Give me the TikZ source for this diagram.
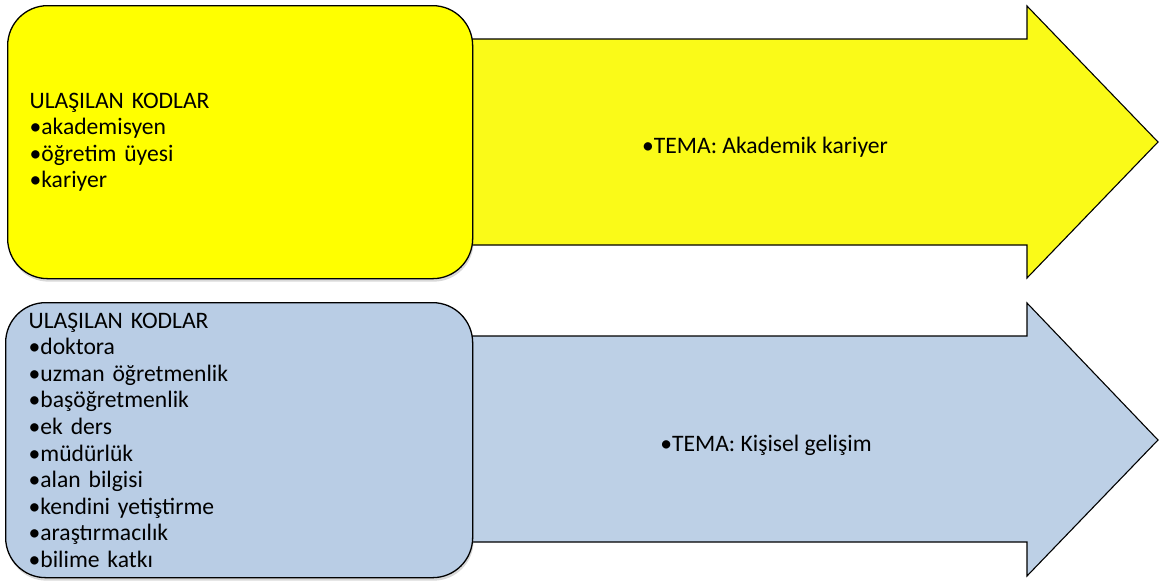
\documentclass[tikz,border=0pt]{standalone}
\usepackage{fontspec}
\setmainfont{Carlito}
\usepackage{tikz,xcolor}
\usetikzlibrary{positioning,shadows}

\definecolor{codeyellow}{HTML}{FFFF00}
\definecolor{themeyellow}{HTML}{FAFA18}
\definecolor{codeblue}{HTML}{B9CDE5}
\definecolor{themeblue}{HTML}{BDD0E6}

\begin{document}
\begin{tikzpicture}[
        x=1pt, y=-1pt,
        font=\fontsize{23.6}{26.6}\selectfont,
        codebox/.style={draw, line width=1.3pt, rounded corners=40pt, anchor=north west,
            inner xsep=22pt, text width=421pt, align=left,
            drop shadow={opacity=0.3, shadow xshift=1pt, shadow yshift=-3pt}},
        themearrow/.style={draw, line width=1.1pt, line join=miter},
        themelabel/.style={inner sep=0pt}
    ]
        \useasboundingbox (0,0) rectangle (1160,581);

        % Upper row: arrow behind the box
        \draw[themearrow, fill=themeyellow] (440,39) -- (1027,39) -- (1027,6) -- (1158,142)
            -- (1027,278) -- (1027,245) -- (440,245) -- cycle;
        \node[codebox, fill=codeyellow, minimum width=465pt, minimum height=273pt] (kariyercodes) at (7,5)
            {ULAŞILAN KODLAR\\ •akademisyen\\ •öğretim üyesi\\ •kariyer};
        \node[themelabel] (kariyertheme) at (765,147) {•TEMA: Akademik kariyer};

        % Lower row: arrow behind the box
        \draw[themearrow, fill=themeblue] (440,336) -- (1027,336) -- (1027,303) -- (1158,440)
            -- (1027,576) -- (1027,542) -- (440,542) -- cycle;
        \node[codebox, fill=codeblue, minimum width=467pt, minimum height=275pt] (gelisimcodes) at (5,302)
            {ULAŞILAN KODLAR\\ •doktora\\ •uzman öğretmenlik\\ •başöğretmenlik\\ •ek ders\\ •müdürlük\\
             •alan bilgisi\\ •kendini yetiştirme\\ •araştırmacılık\\ •bilime katkı};
        \node[themelabel] (gelisimtheme) at (766,445) {•TEMA: Kişisel gelişim};

    \end{tikzpicture}
\end{document}
